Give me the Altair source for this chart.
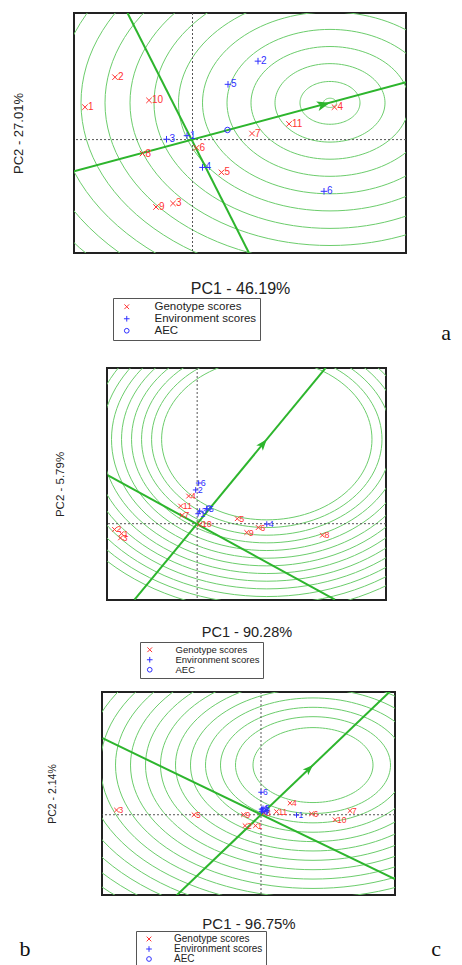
import math
import pandas as pd
import altair as alt

SANS = "Liberation Sans"
SERIF = "Liberation Serif"
RED = "#ff3333"
BLUE = "#3030ff"
RING = "#6ccd6c"
LINE = "#2db52d"
TYPES = ["Genotype scores", "Environment scores", "AEC"]
SHAPES = ["M-1,-1L1,1M-1,1L1,-1", "M-1.2,0L1.2,0M0,-1.2L0,1.2", "circle"]
COLORS = [RED, BLUE, BLUE]
ARROW = "M0,0L-2,-0.75L-1.5,0L-2,0.75Z"

# ---------------- panel a ----------------
A_X_TITLE = "PC1 - 46.19%"
A_Y_TITLE = "PC2 - 27.01%"
A_XDOM = [-2.37, 4.27]
A_YDOM = [-3.18, 3.55]
A_GEN_LABELS = ["1", "2", "3", "4", "5", "6", "7", "8", "9", "10", "11"]
A_GEN_X = [-2.15, -1.55, -0.39, 2.84, 0.58, 0.08, 1.19, -1.00, -0.73, -0.87, 1.93]
A_GEN_Y = [0.91, 1.75, -1.79, 0.91, -0.92, -0.23, 0.17, -0.39, -1.89, 1.10, 0.44]
A_ENV_LABELS = ["1", "2", "3", "4", "5", "6"]
A_ENV_X = [-0.11, 1.31, -0.52, 0.20, 0.71, 2.63]
A_ENV_Y = [0.11, 2.20, 0.01, -0.78, 1.55, -1.45]
A_AEC = [0.70, 0.27]
A_IDEAL = [2.75, 1.03]
A_RADII = [0.13, 0.6, 1.1, 1.58, 2.06, 2.55, 3.03, 3.52, 4.0, 4.5, 4.98, 5.47, 5.95, 6.45]
A_AECLINE_X = [-2.37, 4.27]
A_AECLINE_Y = [-0.89, 1.61]
A_PERP_X = [-1.30, 1.13]
A_PERP_Y = [3.55, -3.18]

# ---------------- panel b ----------------
B_X_TITLE = "PC1 - 90.28%"
B_Y_TITLE = "PC2 - 5.79%"
B_XDOM = [-1.8, 3.77]
B_YDOM = [-1.99, 4.06]
B_GEN_LABELS = ["1", "2", "3", "4", "5", "6", "7", "8", "9", "10", "11"]
B_GEN_X = [-1.51, -1.65, -1.53, -0.17, 0.80, 1.22, -0.30, 2.50, 0.99, 0.05, -0.33]
B_GEN_Y = [-0.26, -0.15, -0.37, 0.72, 0.13, -0.10, 0.22, -0.30, -0.23, -0.02, 0.46]
B_ENV_LABELS = ["1", "2", "3", "4", "5", "6"]
B_ENV_X = [0.02, -0.03, 0.05, 1.39, 0.19, 0.03]
B_ENV_Y = [0.26, 0.88, 0.33, -0.01, 0.39, 1.06]
B_AEC = [0.24, 0.41]
B_IDEAL = [1.39, 2.2]
B_RADII = [2.1, 2.3, 2.5, 2.7, 2.9, 3.1, 3.3, 3.5, 3.7, 3.9, 4.1, 4.3, 4.5]
B_AECLINE_X = [-1.25, 2.57]
B_AECLINE_Y = [-1.98, 4.07]
B_PERP_X = [-1.78, 2.75]
B_PERP_Y = [1.26, -1.98]

# ---------------- panel c ----------------
C_X_TITLE = "PC1 - 96.75%"
C_Y_TITLE = "PC2 - 2.14%"
C_XDOM = [-3.18, 2.68]
C_YDOM = [-2.57, 3.93]
C_GEN_LABELS = ["1", "2", "3", "4", "5", "6", "7", "8", "9", "10", "11"]
C_GEN_X = [-0.11, -0.32, -2.89, 0.58, -1.34, 1.01, 1.78, 0.06, -0.35, 1.48, 0.31]
C_GEN_Y = [-0.35, -0.35, 0.15, 0.37, 0.00, 0.03, 0.13, 0.05, 0.00, -0.16, 0.10]
C_ENV_LABELS = ["1", "2", "3", "4", "5", "6"]
C_ENV_X = [0.71, 0.01, 0.03, 0.01, 0.04, 0.00]
C_ENV_Y = [-0.01, 0.18, 0.15, 0.10, 0.21, 0.72]
C_AEC = [0.05, 0.15]
C_IDEAL = [1.04, 1.59]
C_RADII = [1.2, 1.55, 1.85, 2.15, 2.45, 2.75, 3.05, 3.35, 3.65, 3.95, 4.25, 4.55, 4.85, 5.15, 5.45, 5.75]
C_AECLINE_X = [-1.7, 2.68]
C_AECLINE_Y = [-2.6, 4.1]
C_PERP_X = [-3.17, 2.68]
C_PERP_Y = [2.45, -2.06]


def make_panel(cfg):
    W, H = cfg["w"], cfg["h"]
    xs = alt.Scale(domain=cfg["xdom"], nice=False, zero=False)
    ys = alt.Scale(domain=cfg["ydom"], nice=False, zero=False)
    xax = alt.Axis(labels=False, ticks=False, domain=False, grid=False,
                   title=cfg["xtitle"], titleY=cfg["xty"], titleBaseline="middle",
                   titleFont=SANS, titleFontSize=cfg["xtfs"], titleFontWeight="normal",
                   titleColor="#222")
    yax = alt.Axis(labels=False, ticks=False, domain=False, grid=False,
                   title=cfg["ytitle"], titleX=cfg["ytx"], titleY=H / 2,
                   titleBaseline="middle", titleAlign="center",
                   titleFont=SANS, titleFontSize=cfg["ytfs"], titleFontWeight="normal",
                   titleColor="#222")

    def X():
        return alt.X("x:Q", scale=xs, axis=xax)

    def Y():
        return alt.Y("y:Q", scale=ys, axis=yax)

    cx, cy = cfg["ideal"]
    rows = []
    for k, r in enumerate(cfg["radii"]):
        for j in range(0, 361, 3):
            t = math.radians(j)
            rows.append({"ring": k, "o": j, "x": cx + r * math.cos(t), "y": cy + r * math.sin(t)})
    rings = alt.Chart(pd.DataFrame(rows)).mark_line(
        color=RING, strokeWidth=1, clip=True
    ).encode(x=X(), y=Y(), detail="ring:N", order="o:Q")

    zero = pd.DataFrame({"x": [0.0], "y": [0.0]})
    vline = alt.Chart(zero).mark_rule(color="#555", strokeWidth=1, strokeDash=[2, 2]).encode(x=X())
    hline = alt.Chart(zero).mark_rule(color="#555", strokeWidth=1, strokeDash=[2, 2]).encode(y=Y())

    lrows = []
    for i in range(2):
        lrows.append({"ln": "aec", "o": i, "x": cfg["aecx"][i], "y": cfg["aecy"][i]})
        lrows.append({"ln": "perp", "o": i, "x": cfg["perpx"][i], "y": cfg["perpy"][i]})
    lines = alt.Chart(pd.DataFrame(lrows)).mark_line(
        color=LINE, strokeWidth=2, clip=True
    ).encode(x=X(), y=Y(), detail="ln:N", order="o:Q")

    xr = cfg["xdom"][1] - cfg["xdom"][0]
    yr = cfg["ydom"][1] - cfg["ydom"][0]
    ang = math.degrees(math.atan2(-cy * H / yr, cx * W / xr)) % 360
    arrow = alt.Chart(pd.DataFrame({"x": [cx], "y": [cy]})).mark_point(
        shape=ARROW, filled=True, color=LINE, opacity=1, size=cfg["asize"], angle=ang, strokeWidth=0
    ).encode(x=X(), y=Y())

    prow = []
    for lab, x, y in zip(cfg["glab"], cfg["gx"], cfg["gy"]):
        prow.append({"x": x, "y": y, "type": TYPES[0], "label": lab, "tcol": RED})
    for lab, x, y in zip(cfg["elab"], cfg["ex"], cfg["ey"]):
        prow.append({"x": x, "y": y, "type": TYPES[1], "label": lab, "tcol": BLUE})
    prow.append({"x": cfg["aec"][0], "y": cfg["aec"][1], "type": TYPES[2], "label": "", "tcol": BLUE})
    pdf = pd.DataFrame(prow)

    leg = alt.Legend(title=None, orient="none", legendX=cfg["legx"], legendY=cfg["legy"],
                     strokeColor="#555", fillColor="white", padding=3,
                     labelFont=SANS, labelFontSize=cfg["legfs"], labelColor="#222",
                     symbolSize=22, symbolStrokeWidth=1, symbolOffset=cfg["symoff"],
                     labelOffset=cfg["laboff"], rowPadding=cfg["rowpad"], labelLimit=300)
    points = alt.Chart(pdf).mark_point(
        filled=False, strokeWidth=1, size=cfg["msize"], opacity=1, clip=True
    ).encode(
        x=X(), y=Y(),
        color=alt.Color("type:N", scale=alt.Scale(domain=TYPES, range=COLORS), legend=leg),
        shape=alt.Shape("type:N", scale=alt.Scale(domain=TYPES, range=SHAPES), legend=leg),
    )
    labels = alt.Chart(pdf).mark_text(
        align="left", baseline="middle", dx=cfg["ldx"], font=SANS, fontSize=cfg["lfs"], clip=True
    ).encode(x=X(), y=Y(), text="label:N", color=alt.Color("tcol:N", scale=None))

    layers = [rings, vline, hline, lines, arrow, points, labels]
    for ch, px, py in cfg["letters"]:
        layers.append(
            alt.Chart(pd.DataFrame({"t": [ch]})).mark_text(
                font=SERIF, fontSize=22, align="center", baseline="middle", color="#111"
            ).encode(text="t:N", x=alt.value(px), y=alt.value(py))
        )
    return alt.layer(*layers).properties(
        width=W, height=H, view=alt.ViewBackground(stroke="#222", strokeWidth=2)
    )


def spacer(w):
    return alt.Chart(pd.DataFrame({"v": [0]})).mark_point(size=0, opacity=0).encode(
        x=alt.value(1), y=alt.value(1)
    ).properties(width=w, height=2, view=alt.ViewBackground(stroke="transparent"))


panel_a = make_panel(dict(
    w=332, h=240, xdom=A_XDOM, ydom=A_YDOM, xtitle=A_X_TITLE, ytitle=A_Y_TITLE,
    xty=35, xtfs=16, ytx=-56, ytfs=13, ideal=A_IDEAL, radii=A_RADII,
    aecx=A_AECLINE_X, aecy=A_AECLINE_Y, perpx=A_PERP_X, perpy=A_PERP_Y, asize=170,
    glab=A_GEN_LABELS, gx=A_GEN_X, gy=A_GEN_Y, elab=A_ENV_LABELS, ex=A_ENV_X, ey=A_ENV_Y,
    aec=A_AEC, legx=39, legy=285, legfs=11.5, rowpad=-4.5, symoff=5, laboff=22, msize=30,
    ldx=3, lfs=10, letters=[("a", 372, 320)],
))
panel_b = make_panel(dict(
    w=279, h=232, xdom=B_XDOM, ydom=B_YDOM, xtitle=B_X_TITLE, ytitle=B_Y_TITLE,
    xty=32, xtfs=14.5, ytx=-47, ytfs=11.5, ideal=B_IDEAL, radii=B_RADII,
    aecx=B_AECLINE_X, aecy=B_AECLINE_Y, perpx=B_PERP_X, perpy=B_PERP_Y, asize=130,
    glab=B_GEN_LABELS, gx=B_GEN_X, gy=B_GEN_Y, elab=B_ENV_LABELS, ex=B_ENV_X, ey=B_ENV_Y,
    aec=B_AEC, legx=33, legy=274, legfs=9.5, rowpad=-3, symoff=2, laboff=21, msize=22,
    ldx=2, lfs=9, letters=[],
))
panel_c = make_panel(dict(
    w=293, h=203, xdom=C_XDOM, ydom=C_YDOM, xtitle=C_X_TITLE, ytitle=C_Y_TITLE,
    xty=28, xtfs=15, ytx=-50, ytfs=10.5, ideal=C_IDEAL, radii=C_RADII,
    aecx=C_AECLINE_X, aecy=C_AECLINE_Y, perpx=C_PERP_X, perpy=C_PERP_Y, asize=110,
    glab=C_GEN_LABELS, gx=C_GEN_X, gy=C_GEN_Y, elab=C_ENV_LABELS, ex=C_ENV_X, ey=C_ENV_Y,
    aec=C_AEC, legx=34, legy=239, legfs=10, rowpad=-3.5, symoff=5, laboff=20, msize=20,
    ldx=2, lfs=8.5, letters=[("b", -77, 257), ("c", 334, 257)],
))


def indep(c):
    return c.resolve_scale(color="independent", shape="independent").resolve_legend(
        color="independent", shape="independent")


row_a = indep(alt.hconcat(spacer(1), panel_a, spacing=0))
row_b = indep(alt.hconcat(spacer(43), panel_b, spacing=0))
row_c = indep(alt.hconcat(spacer(8), panel_c, spacing=0))
inner = indep(alt.vconcat(row_a, row_b, spacing=21))
chart = indep(alt.vconcat(inner, row_c, spacing=10)).properties(
    padding={"left": 0, "top": 3, "right": 0, "bottom": 0}, background="white"
).configure_view(stroke="#222", strokeWidth=2)

chart.save("out.html", embed_options={"renderer": "svg", "actions": False})
